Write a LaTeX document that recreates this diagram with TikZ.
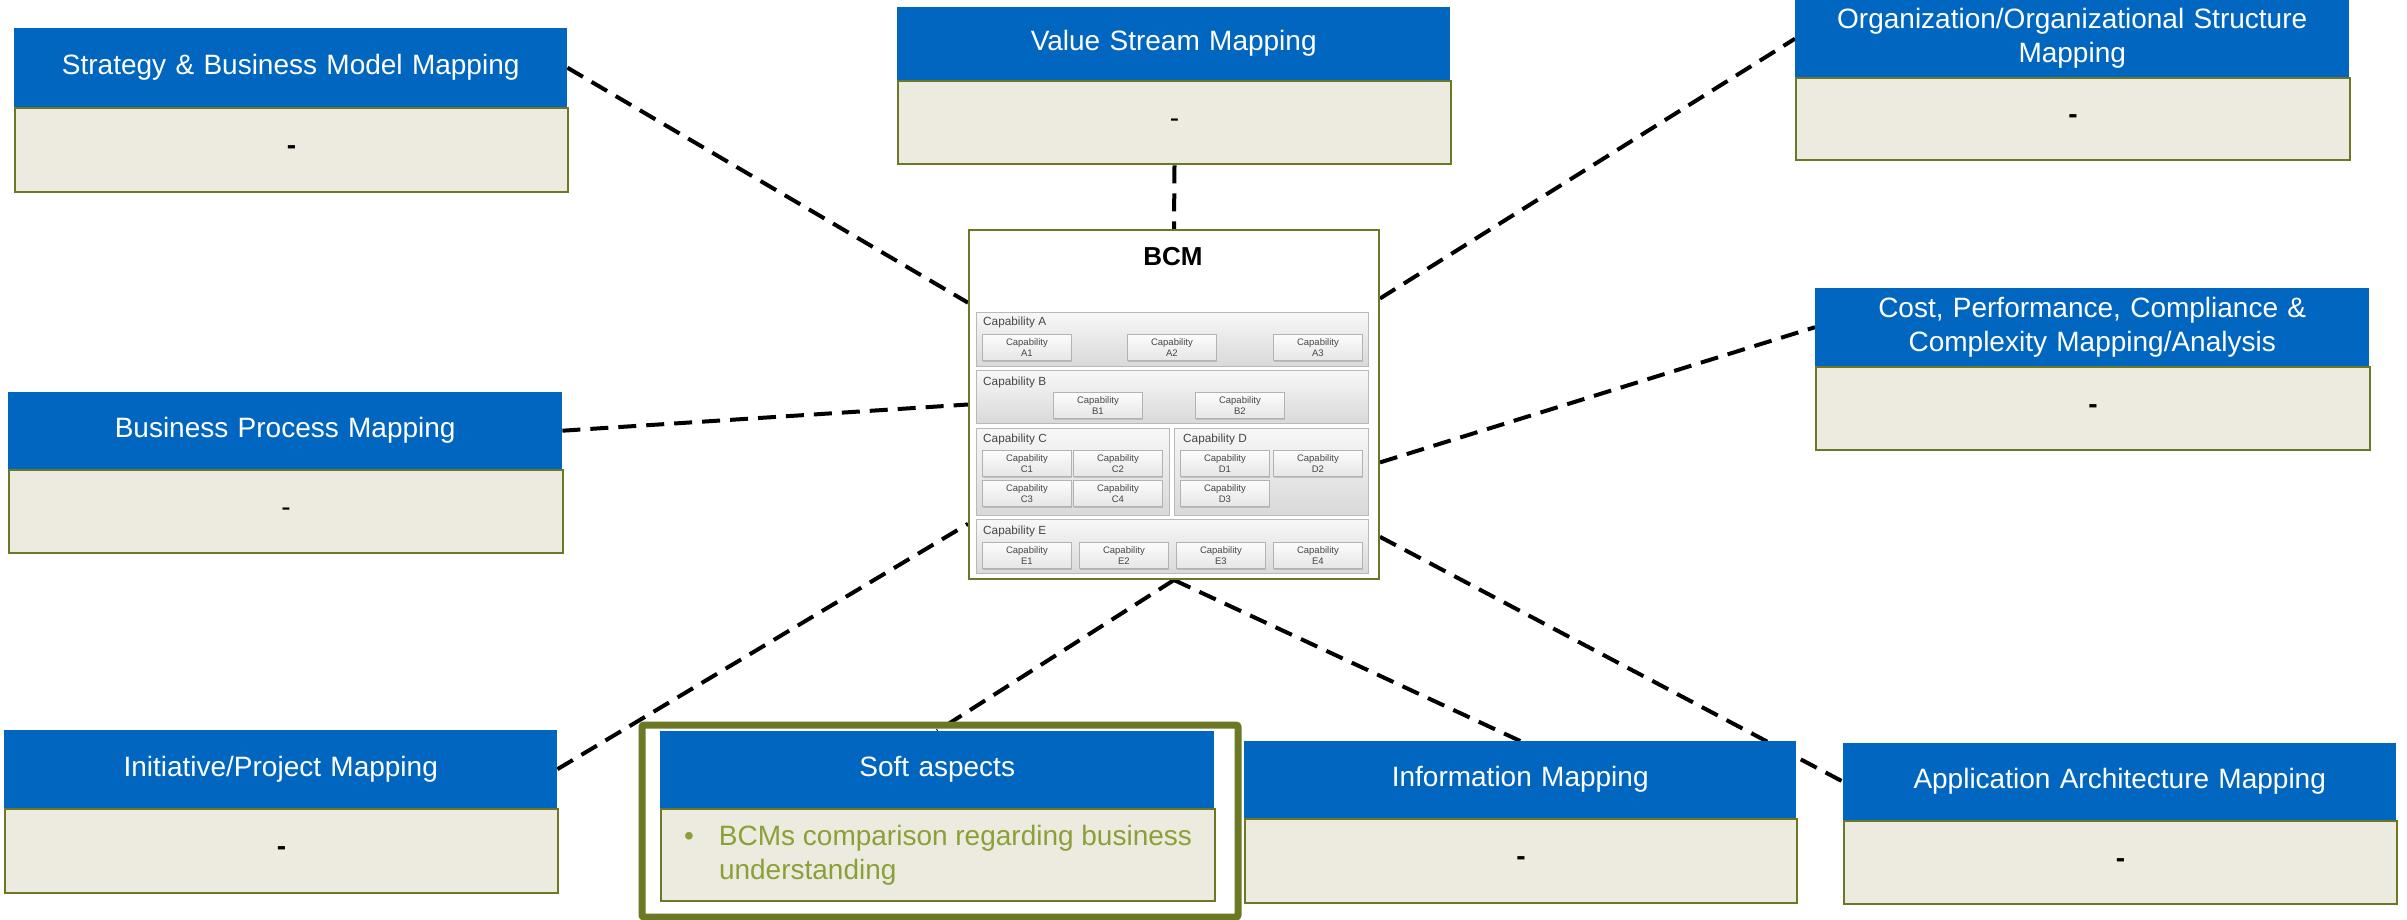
\documentclass[tikz,border=0pt]{standalone}
\usepackage{fontspec}
\setmainfont{Liberation Sans}
\usetikzlibrary{calc,shadows}
\definecolor{hblue}{RGB}{0,102,191}
\definecolor{beige}{RGB}{237,235,224}
\definecolor{olive}{RGB}{108,120,36}
\definecolor{lime}{RGB}{140,160,56}
\definecolor{capgray}{RGB}{70,70,70}
\pgfdeclarelayer{bg}
\pgfsetlayers{bg,main}

% header + body pair: name, x, y, width, header height, body height, title, body
\newcommand\mapbox[8]{%
  \node[hdr, minimum width=#4pt, minimum height=#5pt] (#1-h) at (#2,#3) {#7};
  \node[bodybox, minimum width=#4pt, minimum height=#6pt] (#1-b) at (#1-h.south west) {#8};}

% small capability box: name, x, y, suffix
\newcommand\capsub[4]{%
  \node[capbox] (#1) at (#2,#3) {Capability\\#4};}

% placeholder dash in the body boxes
\newcommand\bdash{\raisebox{-3pt}{\bfseries -}}
\newcommand\ldash{\raisebox{-3pt}{-}}

\begin{document}
\begin{tikzpicture}[x=1pt,y=-1pt,
  hdr/.style={fill=hblue, text=white, inner sep=0pt, align=center, text width=520pt,
    anchor=north west, font=\fontsize{28}{34}\selectfont},
  bodybox/.style={fill=beige, draw=olive, line width=2pt, inner sep=0pt,
    anchor=north west, font=\fontsize{28}{34}\selectfont},
  link/.style={draw=black, line width=4pt, dash pattern=on 18pt off 10pt},
  frame/.style={draw=olive, line width=7pt, rounded corners=2pt, inner sep=0pt, anchor=north west},
  bcmbox/.style={draw=olive, line width=2pt, fill=white, inner sep=0pt, anchor=north west},
  cont/.style={draw=gray!55, line width=1pt, top color=gray!6, bottom color=gray!30,
    anchor=north west, inner sep=0pt},
  capbox/.style={draw=gray!60, line width=0.8pt, top color=gray!2, bottom color=gray!20,
    anchor=north west, inner sep=0pt, minimum width=89pt, minimum height=26pt, align=center,
    font=\fontsize{9.5}{11.5}\selectfont, text=capgray,
    drop shadow={shadow xshift=1pt, shadow yshift=-1.5pt, opacity=0.35}},
  clabel/.style={anchor=west, inner sep=0pt, font=\fontsize{11.8}{14}\selectfont, text=capgray}]

\useasboundingbox (0,0) rectangle (2407,919);

% surrounding mapping boxes
\mapbox{strat}{14}{28}{553}{79}{84}{Strategy \& Business Model Mapping}{\bdash}
\mapbox{vs}{897}{7}{553}{73}{83}{Value Stream Mapping}{\ldash}
\mapbox{org}{1795}{0}{554}{77}{82}{Organization/Organizational Structure\\Mapping}{\bdash}
\mapbox{cost}{1815}{288}{554}{78}{83}{Cost, Performance, Compliance \&\\Complexity Mapping/Analysis}{\bdash}
\mapbox{bp}{8}{392}{554}{77}{83}{Business Process Mapping}{\ldash}
\mapbox{init}{4}{730}{553}{78}{84}{Initiative/Project Mapping}{\bdash}
\mapbox{info}{1244}{741}{552}{77}{84}{Information Mapping}{\bdash}
\mapbox{app}{1843}{743}{553}{77}{83}{Application Architecture Mapping}{\bdash}
\mapbox{soft}{660}{731}{554}{77}{92}{Soft aspects}{%
  \parbox{508pt}{\color{lime}\hangindent=35pt\hangafter=1\noindent
    \makebox[35pt][l]{\textbullet}BCMs comparison regarding business\\understanding}}

% highlight frame around the soft aspects box
\node[frame, minimum width=596pt, minimum height=192pt] (softframe) at (638.5,721.5) {};

% business capability map
\node[bcmbox, minimum width=410pt, minimum height=349pt] (bcm) at (968,229) {};
\node[font=\bfseries\fontsize{26}{30}\selectfont] (bcmtitle) at (1173,257) {BCM};

\node[cont, minimum width=392pt, minimum height=54pt] (capA) at (976,312) {};
\node[clabel] (capA-l) at (983,322) {Capability A};
\capsub{A1}{982}{334}{A1}
\capsub{A2}{1127}{334}{A2}
\capsub{A3}{1273}{334}{A3}

\node[cont, minimum width=392pt, minimum height=53pt] (capB) at (976,370) {};
\node[clabel] (capB-l) at (983,382) {Capability B};
\capsub{B1}{1053}{392}{B1}
\capsub{B2}{1195}{392}{B2}

\node[cont, minimum width=193pt, minimum height=87pt] (capC) at (976,428) {};
\node[clabel] (capC-l) at (983,439) {Capability C};
\capsub{C1}{982}{450}{C1}
\capsub{C2}{1073}{450}{C2}
\capsub{C3}{982}{480}{C3}
\capsub{C4}{1073}{480}{C4}

\node[cont, minimum width=194pt, minimum height=87pt] (capD) at (1174,428) {};
\node[clabel] (capD-l) at (1183,439) {Capability D};
\capsub{D1}{1180}{450}{D1}
\capsub{D2}{1273}{450}{D2}
\capsub{D3}{1180}{480}{D3}

\node[cont, minimum width=392pt, minimum height=54pt] (capE) at (976,519) {};
\node[clabel] (capE-l) at (983,531) {Capability E};
\capsub{E1}{982}{542}{E1}
\capsub{E2}{1079}{542}{E2}
\capsub{E3}{1176}{542}{E3}
\capsub{E4}{1273}{542}{E4}

% dashed relations, kept behind the boxes
\begin{pgfonlayer}{bg}
  \draw[link] (strat-h.east) -- ($(bcm.north west)!0.21!(bcm.south west)$);
  \draw[link] (vs-b.south) -- (bcm.north);
  \draw[link] ($(bcm.north east)!0.198!(bcm.south east)$) -- (org-h.west);
  \draw[link] ($(bcm.north east)!0.665!(bcm.south east)$) -- (cost-h.west);
  \draw[link] (bp-h.east) -- (bcm.west);
  \draw[link] (init-h.east) -- ($(bcm.north west)!0.84!(bcm.south west)$);
  \draw[link] (bcm.south) -- (soft-h.north);
  \draw[link] (bcm.south) -- (info-h.north);
  \draw[link] ($(bcm.north east)!0.877!(bcm.south east)$) -- (app-h.west);
\end{pgfonlayer}
\end{tikzpicture}
\end{document}
